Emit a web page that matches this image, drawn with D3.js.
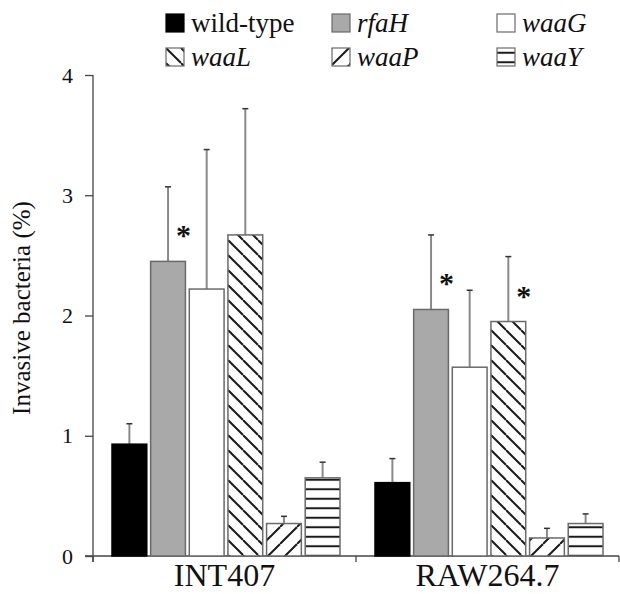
<!DOCTYPE html>
<html lang="en">

<head>
    <meta charset="UTF-8">
    <title>Invasive bacteria</title>
    <script src="https://d3js.org/d3.v7.min.js"></script>
    <style>
        body {
            margin: 0;
            background: #fff;
        }

        text {
            font-family: 'Liberation Serif', 'Times New Roman', serif;
            fill: #111;
        }

        .axis path,
        .axis line {
            stroke: #444;
            stroke-width: 1.3;
        }
    </style>
</head>

<body>
    <svg id="chart" width="620" height="594"></svg>
    <script>
        const groups = ["INT407", "RAW264.7"];
        const strains = ["wild-type", "rfaH", "waaG", "waaL", "waaP", "waaY"];
        const italicStrain = [false, true, true, true, true, true];

        const int407Means = [0.93, 2.45, 2.22, 2.67, 0.27, 0.65];
        const int407Errors = [0.17, 0.62, 1.16, 1.05, 0.06, 0.13];
        const raw264Means = [0.61, 2.05, 1.57, 1.95, 0.15, 0.27];
        const raw264Errors = [0.20, 0.62, 0.64, 0.54, 0.08, 0.08];

        // strains marked with * per group
        const int407Stars = ["rfaH"];
        const raw264Stars = ["rfaH", "waaL"];

        const yTicks = [0, 1, 2, 3, 4];

        const table = groups.map((g, gi) => ({
            group: g,
            bars: strains.map((s, i) => ({
                group: g,
                strain: s,
                mean: gi === 0 ? int407Means[i] : raw264Means[i],
                err: gi === 0 ? int407Errors[i] : raw264Errors[i],
                star: (gi === 0 ? int407Stars : raw264Stars).includes(s)
            }))
        }));

        const chart = d3.select("#chart");
        const defs = chart.append("defs");

        // hatch patterns
        function hatch(id, size, lines) {
            const p = defs.append("pattern")
                .attr("id", id)
                .attr("patternUnits", "userSpaceOnUse")
                .attr("width", size)
                .attr("height", size);
            p.append("rect").attr("width", size).attr("height", size).attr("fill", "#fff");
            lines.forEach(l => p.append("line")
                .attr("x1", l[0]).attr("y1", l[1]).attr("x2", l[2]).attr("y2", l[3])
                .attr("stroke", "#1a1a1a")
                .attr("stroke-width", 2));
        }
        hatch("pL", 15, [[0, 0, 15, 15], [-15, 0, 0, 15], [0, -15, 15, 0]]);
        hatch("pP", 17, [[0, 17, 17, 0], [-17, 17, 0, 0], [0, 34, 17, 17]]);
        hatch("pY", 9.5, [[0, 4.75, 9.5, 4.75]]);

        const fills = {
            "wild-type": "#000",
            "rfaH": "#a9a9a9",
            "waaG": "#fff",
            "waaL": "url(#pL)",
            "waaP": "url(#pP)",
            "waaY": "url(#pY)"
        };

        const plotLeft = 93, plotRight = 619, plotTop = 75, plotBottom = 556;

        const x0 = d3.scaleBand().domain(groups).range([plotLeft, plotRight]).padding(0);
        const x1 = d3.scaleBand().domain(strains)
            .range([19, x0.bandwidth() - 16])
            .paddingInner(0.1).paddingOuter(0);
        const y = d3.scaleLinear().domain([0, 4]).range([plotBottom, plotTop]);

        // y axis
        chart.append("g")
            .attr("class", "axis y-axis")
            .attr("transform", `translate(${plotLeft},0)`)
            .call(d3.axisLeft(y).tickValues(yTicks).tickFormat(d3.format("d"))
                .tickSize(8).tickSizeOuter(0).tickPadding(12))
            .call(g => g.select(".domain").attr("d", `M0,${plotTop}V${plotBottom + 6}`))
            .call(g => g.selectAll(".tick text")
                .attr("font-family", null)
                .style("font-size", "22px")
                .attr("fill", "#111"));

        // x axis line with group separators
        const xAxis = chart.append("g").attr("class", "axis x-axis");
        xAxis.append("line")
            .attr("x1", plotLeft - 8).attr("x2", plotRight)
            .attr("y1", plotBottom).attr("y2", plotBottom);
        xAxis.selectAll("line.sep")
            .data([...groups.map(g => x0(g)), plotRight])
            .enter().append("line")
            .attr("class", "sep")
            .attr("x1", d => d).attr("x2", d => d)
            .attr("y1", plotBottom).attr("y2", plotBottom + 6);
        xAxis.selectAll("text.cat")
            .data(groups)
            .enter().append("text")
            .attr("class", "cat")
            .attr("x", d => x0(d) + x0.bandwidth() / 2)
            .attr("y", 586)
            .attr("text-anchor", "middle")
            .style("font-size", "32px")
            .text(d => d);

        // y label
        chart.append("text")
            .attr("transform", `translate(30,308) rotate(-90)`)
            .attr("text-anchor", "middle")
            .style("font-size", "25px")
            .text("Invasive bacteria (%)");

        const gGroups = chart.append("g")
            .selectAll("g")
            .data(table)
            .enter().append("g")
            .attr("transform", d => `translate(${x0(d.group)},0)`);

        const bar = gGroups.selectAll("g.bar")
            .data(d => d.bars)
            .enter().append("g")
            .attr("class", "bar");

        // error bars (upper only)
        bar.append("line")
            .attr("x1", d => x1(d.strain) + x1.bandwidth() / 2)
            .attr("x2", d => x1(d.strain) + x1.bandwidth() / 2)
            .attr("y1", d => y(d.mean))
            .attr("y2", d => y(d.mean + d.err))
            .attr("stroke", "#8a8a8a")
            .attr("stroke-width", 2);
        bar.append("line")
            .attr("x1", d => x1(d.strain) + x1.bandwidth() / 2 - 3)
            .attr("x2", d => x1(d.strain) + x1.bandwidth() / 2 + 3)
            .attr("y1", d => y(d.mean + d.err))
            .attr("y2", d => y(d.mean + d.err))
            .attr("stroke", "#333")
            .attr("stroke-width", 1.5);

        bar.append("rect")
            .attr("x", d => x1(d.strain))
            .attr("y", d => y(d.mean))
            .attr("width", x1.bandwidth())
            .attr("height", d => y(0) - y(d.mean))
            .attr("fill", d => fills[d.strain])
            .attr("stroke", d => d.strain === "wild-type" ? "#000" : "#6a6a6a")
            .attr("stroke-width", 1.5);

        bar.filter(d => d.star)
            .append("text")
            .attr("x", d => x1(d.strain) + x1.bandwidth() - 2)
            .attr("y", d => y(d.mean) - 16)
            .attr("text-anchor", "middle")
            .style("font-size", "30px")
            .style("font-weight", "bold")
            .text("*");

        // legend
        const legendCols = [166, 332, 497];
        const legendRows = [14, 48];
        const legendBox = 18;
        const legend = chart.append("g")
            .attr("class", "legend")
            .selectAll("g")
            .data(strains)
            .enter().append("g")
            .attr("transform", (d, i) => `translate(${legendCols[i % 3]},${legendRows[Math.floor(i / 3)]})`);

        legend.append("rect")
            .attr("width", legendBox)
            .attr("height", legendBox)
            .attr("fill", d => fills[d])
            .attr("stroke", d => d === "wild-type" ? "#000" : "#6a6a6a")
            .attr("stroke-width", 1.2);

        legend.append("text")
            .attr("x", legendBox + 7)
            .attr("y", legendBox)
            .style("font-size", "27px")
            .style("font-style", (d, i) => italicStrain[i] ? "italic" : "normal")
            .text(d => d);
    </script>
</body>

</html>
